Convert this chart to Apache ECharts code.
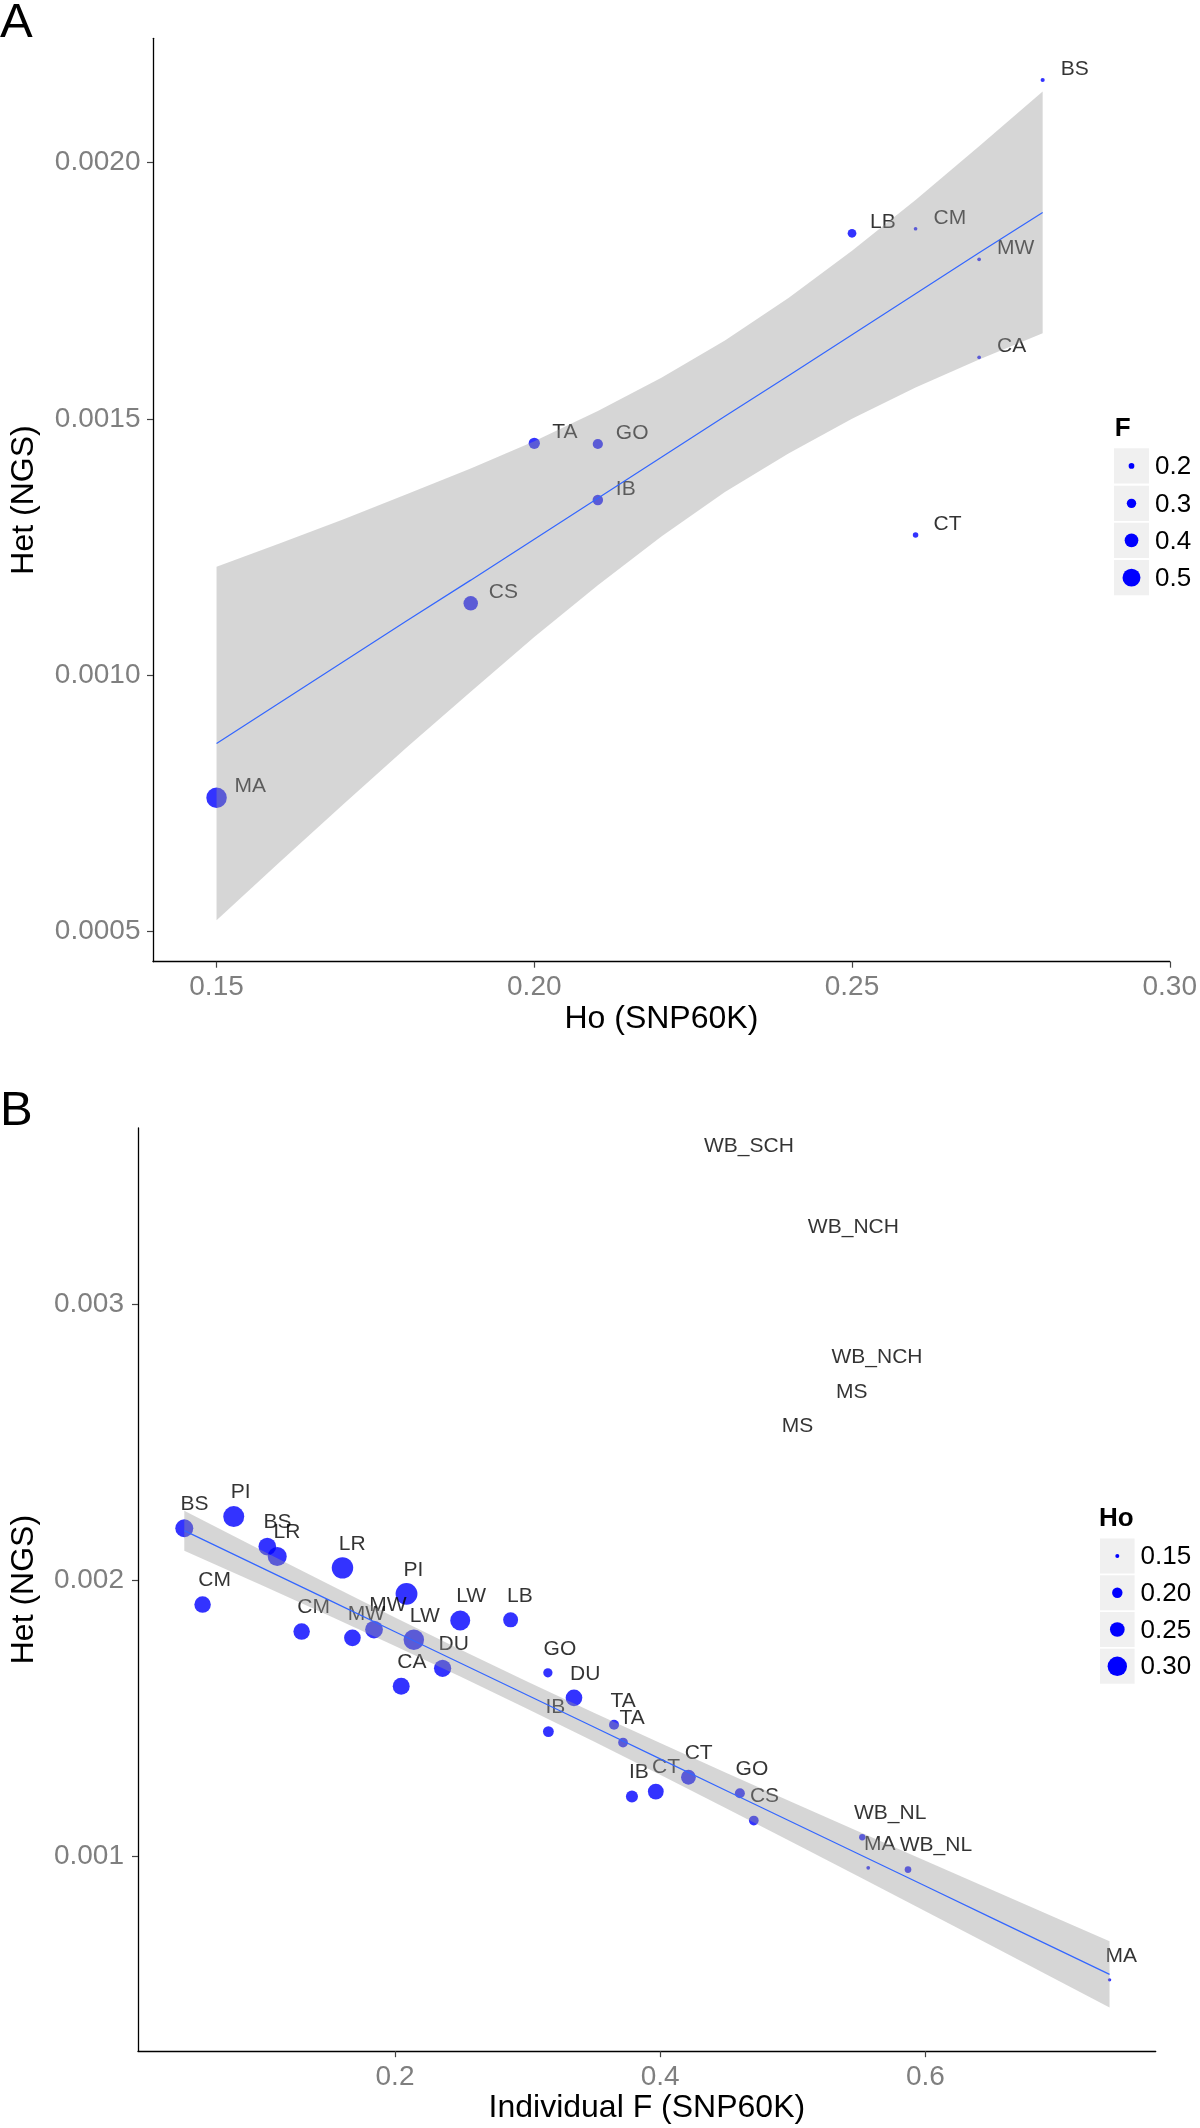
<!DOCTYPE html>
<html><head><meta charset="utf-8">
<script src="https://cdn.jsdelivr.net/npm/echarts@6/dist/echarts.min.js"></script>
<style>html,body{margin:0;padding:0;background:#fff}#c{width:1200px;height:2128px}</style>
</head><body><div id="c"></div>
<script>
// ================= Panel A data =================
const popA = ['BS','LB','CM','MW','CA','CT','TA','GO','IB','CS','MA'];
const hoA  = [0.28, 0.25, 0.26, 0.27, 0.27, 0.26, 0.20, 0.21, 0.21, 0.19, 0.15];
const hetA = [0.0021615, 0.0018622, 0.0018711, 0.0018114, 0.0016201, 0.0012731, 0.0014522, 0.0014508, 0.0013415, 0.0011398, 0.0007602];
const fA   = [0.159, 0.282, 0.146, 0.146, 0.146, 0.195, 0.344, 0.319, 0.326, 0.419, 0.562];
// smooth (lm) line and its confidence band
const bandXA  = [0.15, 0.16, 0.17, 0.18, 0.19, 0.20, 0.21, 0.22, 0.23, 0.24, 0.25, 0.26, 0.27, 0.28];
const fitA    = [0.000866, 0.000946, 0.001026, 0.001106, 0.001185, 0.001265, 0.001345, 0.001425, 0.001505, 0.001584, 0.001664, 0.001744, 0.001824, 0.001903];
const bandLoA = [0.000521, 0.000635, 0.000748, 0.000859, 0.000967, 0.001074, 0.001175, 0.001270, 0.001357, 0.001432, 0.001500, 0.001561, 0.001616, 0.001667];
const bandHiA = [0.001211, 0.001257, 0.001304, 0.001353, 0.001403, 0.001456, 0.001515, 0.001580, 0.001653, 0.001736, 0.001828, 0.001927, 0.002032, 0.002139];
const ticksXA = [0.15, 0.20, 0.25, 0.30];
const ticksYA = [0.0005, 0.0010, 0.0015, 0.0020];
const legendA = [0.2, 0.3, 0.4, 0.5];

// ================= Panel B data =================
const popB = ['BS','PI','BS','LR','CM','LR','PI','CM','MW','MW','LW','LB','LW','DU','CA','GO','DU','IB','TA','TA','IB','CT','CT','GO','CS','WB_NL','MA','WB_NL','MA'];
const fB   = [0.0411, 0.0784, 0.1037, 0.1112, 0.0549, 0.1604, 0.2087, 0.1296, 0.1842, 0.1679, 0.2492, 0.2872, 0.2142, 0.2359, 0.2047, 0.3153, 0.3350, 0.3157, 0.3652, 0.3720, 0.3787, 0.3967, 0.4213, 0.4601, 0.4706, 0.5524, 0.5569, 0.5869, 0.7389];
const hetB = [0.0021886, 0.0022309, 0.0021224, 0.0020862, 0.0019124, 0.0020452, 0.0019511, 0.0018147, 0.0018219, 0.0017919, 0.0018545, 0.0018570, 0.0017850, 0.0016818, 0.0016166, 0.0016652, 0.0015747, 0.0014527, 0.0014773, 0.0014128, 0.0012174, 0.0012355, 0.0012872, 0.0012293, 0.0011305, 0.0010700, 0.0009593, 0.0009531, 0.0005538];
const hoB  = [0.285, 0.317, 0.282, 0.296, 0.269, 0.322, 0.326, 0.269, 0.283, 0.271, 0.306, 0.253, 0.312, 0.277, 0.274, 0.191, 0.271, 0.205, 0.197, 0.195, 0.219, 0.262, 0.251, 0.197, 0.195, 0.168, 0.148, 0.171, 0.146];
// populations without Ho (label only)
const popX = ['WB_SCH','WB_NCH','WB_NCH','MS','MS'];
const fX   = [0.4406, 0.519, 0.5368, 0.5357, 0.4948];
const hetX = [0.003483, 0.0031928, 0.002721, 0.002594, 0.002471];
const bandXB  = [0.0411, 0.10, 0.15, 0.20, 0.25, 0.30, 0.35, 0.40, 0.45, 0.50, 0.55, 0.60, 0.65, 0.70, 0.7389];
const fitB    = [0.002180, 0.0020444, 0.0019293, 0.0018142, 0.0016991, 0.001584, 0.0014689, 0.0013538, 0.0012387, 0.0011236, 0.0010085, 0.0008934, 0.0007783, 0.0006632, 0.0005737];
const bandLoB = [0.0021076, 0.0019815, 0.001873, 0.0017627, 0.0016501, 0.0015347, 0.0014167, 0.0012963, 0.0011743, 0.001051, 0.0009269, 0.0008022, 0.000677, 0.0005515, 0.0004538];
const bandHiB = [0.0022524, 0.0021073, 0.0019856, 0.0018657, 0.0017481, 0.0016333, 0.0015211, 0.0014113, 0.0013031, 0.0011962, 0.0010901, 0.0009846, 0.0008796, 0.0007749, 0.0006936];
const ticksXB = [0.2, 0.4, 0.6];
const ticksYB = [0.001, 0.002, 0.003];
const legendB = [0.15, 0.20, 0.25, 0.30];

// ================= styling =================
const FONT = '"Liberation Sans", Arial, Helvetica, sans-serif';
const BLUE = '#0000ff';
const SIZE_PX_A = [5.7, 9.4, 13.7, 17.9];   // diameter at legendA stops
const SIZE_PX_B = [4.0, 10.4, 14.7, 19.4];  // diameter at legendB stops

function interp(stops, px, v) {
  let i = 0;
  if (v <= stops[0]) i = 0;
  else if (v >= stops[stops.length - 1]) i = stops.length - 2;
  else { while (v > stops[i + 1]) i++; }
  const t = (v - stops[i]) / (stops[i + 1] - stops[i]);
  return Math.max(2.5, px[i] + t * (px[i + 1] - px[i]));
}
const mctx = document.createElement('canvas').getContext('2d');
function textW(s, size) { mctx.font = size + 'px ' + FONT; return mctx.measureText(s).width; }

const LBL = 21;
function labelA() {
  return { show: true, position: 'inside', align: 'left', verticalAlign: 'middle',
    offset: [18, -11], formatter: p => p.data[3], color: '#000', fontSize: LBL,
    fontFamily: FONT, textBorderWidth: 0 };
}
function itemB(x, y, v, name) {
  return { value: [x, y, v, name],
    label: { offset: [-(0.1 * textW(name, LBL) + 1), -24] } };
}
const labelB = { show: true, position: 'inside', align: 'left', verticalAlign: 'middle',
  formatter: p => p.data.value ? p.data.value[3] : p.data[3], color: '#000', fontSize: LBL,
  fontFamily: FONT, textBorderWidth: 0 };

function bandSeries(xi, yi, xs, lo, hi) {
  return {
    type: 'custom', xAxisIndex: xi, yAxisIndex: yi, z: 3, silent: true, clip: false,
    data: xs.map((x, i) => [x, lo[i], hi[i]]),
    encode: { x: 0, y: [1, 2] },
    renderItem: (params, api) => {
      if (params.dataIndex !== 0) return null;
      const pts = [];
      for (let i = 0; i < xs.length; i++) pts.push(api.coord([xs[i], hi[i]]));
      for (let i = xs.length - 1; i >= 0; i--) pts.push(api.coord([xs[i], lo[i]]));
      return { type: 'polygon', shape: { points: pts }, style: { fill: 'rgba(153,153,153,0.4)' } };
    }
  };
}
function fitSeries(xi, yi, xs, ys) {
  return { type: 'line', xAxisIndex: xi, yAxisIndex: yi, z: 4, silent: true,
    data: xs.map((x, i) => [x, ys[i]]), symbol: 'none', smooth: false,
    lineStyle: { color: '#3366ff', width: 1.2 } };
}
function axisCommon(ticks, fmt, margin) {
  return {
    axisLine: { show: true, onZero: false, lineStyle: { color: '#000', width: 1.3 } },
    axisTick: { show: true, customValues: ticks, length: 6, lineStyle: { color: '#444', width: 1.2 } },
    axisLabel: { customValues: ticks, formatter: fmt, color: '#7f7f7f', fontSize: 28, fontFamily: FONT, margin: margin },
    splitLine: { show: false },
    nameTextStyle: { color: '#000', fontSize: 32, fontFamily: FONT }
  };
}

// ---------- legends (graphic) ----------
function legendGraphic(title, titleX, titleY, vals, labels, keyX, keyYs, keyW, keyH, stops, px) {
  const g = [{ type: 'text', x: titleX, y: titleY,
    style: { text: title, font: 'bold 26px ' + FONT, fill: '#000', align: 'left', verticalAlign: 'middle' } }];
  vals.forEach((v, i) => {
    const cy = keyYs[i] + keyH / 2;
    g.push({ type: 'rect', shape: { x: keyX, y: keyYs[i], width: keyW, height: keyH }, style: { fill: '#f0f0f0' } });
    g.push({ type: 'circle', shape: { cx: keyX + keyW / 2, cy: cy, r: interp(stops, px, v) / 2 }, style: { fill: BLUE } });
    g.push({ type: 'text', x: keyX + keyW + 6, y: cy + 1,
      style: { text: labels[i], font: '26px ' + FONT, fill: '#000', align: 'left', verticalAlign: 'middle' } });
  });
  return g;
}

const graphics = [
  { type: 'text', x: 0, y: 23.5, style: { text: 'A', font: '49px ' + FONT, fill: '#000', align: 'left', verticalAlign: 'middle' } },
  { type: 'text', x: 0, y: 1111, style: { text: 'B', font: '49px ' + FONT, fill: '#000', align: 'left', verticalAlign: 'middle' } },
  ...legendGraphic('F', 1114.7, 429, legendA, legendA.map(v => v.toFixed(1)), 1114, [448.3, 485.7, 522.7, 560], 35, 35.3, legendA, SIZE_PX_A),
  ...legendGraphic('Ho', 1099, 1519, legendB, legendB.map(v => v.toFixed(2)), 1100, [1538.4, 1575.2, 1612, 1648.8], 34.6, 35, legendB, SIZE_PX_B)
];

const option = {
  animation: false,
  backgroundColor: '#fff',
  grid: [
    { left: 148.5, top: 38.3, width: 1022.5, height: 923.4 },
    { left: 132.8, top: 1128, width: 1022.9, height: 923.2 }
  ],
  xAxis: [
    Object.assign({ type: 'value', gridIndex: 0, min: 0.14, max: 0.30, name: 'Ho (SNP60K)', nameLocation: 'middle', nameGap: 41 },
      axisCommon(ticksXA, v => v.toFixed(2), 12)),
    Object.assign({ type: 'value', gridIndex: 1, min: 0.00619, max: 0.7737, name: 'Individual F (SNP60K)', nameLocation: 'middle', nameGap: 41 },
      axisCommon(ticksXB, v => v.toFixed(1), 12))
  ],
  yAxis: [
    Object.assign({ type: 'value', gridIndex: 0, min: 0.00044, max: 0.0022429, name: 'Het (NGS)', nameLocation: 'middle', nameRotate: 90, nameGap: 113 },
      axisCommon(ticksYA, v => v.toFixed(4), 12.5)),
    Object.assign({ type: 'value', gridIndex: 1, min: 0.0002956, max: 0.0036375, name: 'Het (NGS)', nameLocation: 'middle', nameRotate: 90, nameGap: 98 },
      axisCommon(ticksYB, v => v.toFixed(3), 14))
  ],
  graphic: graphics,
  series: [
    // ---- Panel A ----
    { type: 'scatter', xAxisIndex: 0, yAxisIndex: 0, z: 2, silent: true,
      data: popA.map((n, i) => [hoA[i], hetA[i], fA[i], n]),
      symbol: 'circle', symbolSize: v => interp(legendA, SIZE_PX_A, v[2]),
      itemStyle: { color: BLUE }, label: labelA() },
    bandSeries(0, 0, bandXA, bandLoA, bandHiA),
    fitSeries(0, 0, bandXA, fitA),
    // ---- Panel B ----
    { type: 'scatter', xAxisIndex: 1, yAxisIndex: 1, z: 2, silent: true,
      data: popB.map((n, i) => itemB(fB[i], hetB[i], hoB[i], n)),
      symbol: 'circle', symbolSize: v => interp(legendB, SIZE_PX_B, v[2]),
      itemStyle: { color: BLUE }, label: labelB },
    { type: 'scatter', xAxisIndex: 1, yAxisIndex: 1, z: 2, silent: true,
      data: popX.map((n, i) => itemB(fX[i], hetX[i], 0, n)),
      symbol: 'circle', symbolSize: 1,
      itemStyle: { color: 'rgba(0,0,0,0)' }, label: labelB },
    bandSeries(1, 1, bandXB, bandLoB, bandHiB),
    fitSeries(1, 1, bandXB, fitB)
  ]
};
const chart = echarts.init(document.getElementById('c'), null, { renderer: 'canvas' });
chart.setOption(option);
</script>
</body></html>
